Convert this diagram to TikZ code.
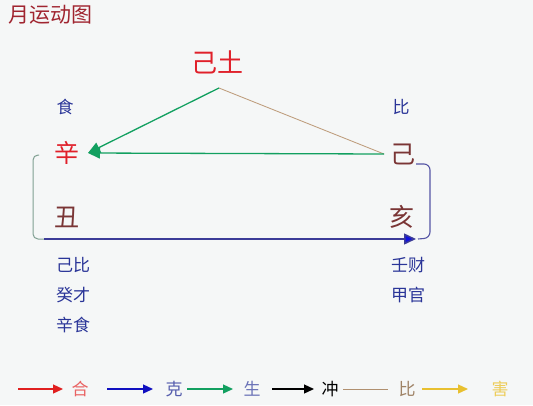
\documentclass[tikz,border=0pt]{standalone}
\usepackage{fontspec}
\setmainfont{Noto Sans CJK SC}
\usetikzlibrary{arrows.meta}
\definecolor{bg}{HTML}{F5F7F7}
\definecolor{titlered}{HTML}{A02530}
\definecolor{bigred}{HTML}{E0202A}
\definecolor{brownc}{HTML}{7A3535}
\definecolor{navyt}{HTML}{2A3598}
\definecolor{greenl}{HTML}{12A060}
\definecolor{tanl}{HTML}{C0A080}
\definecolor{bluel}{HTML}{3C3C98}
\definecolor{bluetip}{HTML}{1010E0}
\definecolor{brack}{HTML}{5555A5}
\definecolor{lbrack}{HTML}{80A092}
\definecolor{legred}{HTML}{E02020}
\definecolor{legblue}{HTML}{1010C0}
\definecolor{legtan}{HTML}{B09070}
\definecolor{legyel}{HTML}{E8C030}
\begin{document}
\begin{tikzpicture}[x=1pt,y=-1pt,
  every node/.style={inner sep=0pt,outer sep=0pt},
  big/.style={font=\fontsize{25}{25}\selectfont},
  small/.style={font=\fontsize{17}{17}\selectfont,text=navyt},
  legtxt/.style={font=\fontsize{17}{17}\selectfont},
  tipg/.style={-{Triangle[length=12pt,width=11pt]}},
  tipl/.style={-{Triangle[length=10pt,width=9pt]}},
  line width=1.3pt]
\fill[bg] (0,0) rectangle (533,405);
\useasboundingbox (0,0) rectangle (533,405);

\node[font=\fontsize{21}{21}\selectfont,text=titlered,anchor=west] (title) at (9,15) {月运动图};
\node[font=\fontsize{26}{26}\selectfont,text=bigred] (jitu) at (217,62) {己土};
\node[small] (shi) at (65,107) {食};
\node[small] (bi) at (401,107) {比};
\node[big,text=bigred] (xin) at (67,153) {辛};
\node[big,text=brownc] (ji) at (403,154) {己};
\node[big,text=brownc] (chou) at (67,217) {丑};
\node[big,text=brownc] (hai) at (402,217) {亥};
\node[small] (c1) at (73,265) {己比};
\node[small] (c2) at (73,295) {癸才};
\node[small] (c3) at (73,325) {辛食};
\node[small] (h1) at (408,265) {壬财};
\node[small] (h2) at (408,295) {甲官};

\coordinate (apex) at (219,88);
\coordinate (xintip) at (88,153);
\coordinate (jiL) at (384,154);
\coordinate (jiR) at (416,164);
\coordinate (lstart) at (39,155);
\coordinate (lbot) at (44,239);
\coordinate (haitip) at (416,239);

\draw[tanl,line width=0.9pt] (apex) -- (jiL);
\draw[greenl,tipg] (apex) -- (xintip);
\draw[greenl,tipg] (jiL) -- (xintip);
\draw[lbrack,line width=1pt,rounded corners=5pt] (lstart) -- (33,155) -- (33,239) -- (lbot);
\draw[bluel,line width=1.5pt,-{Triangle[length=12pt,width=11pt,fill=bluetip]}] (lbot) -- (haitip);
\draw[brack,line width=1.1pt,rounded corners=6pt] (jiR) -- (430,164) -- (430,238) -- (418,239);

% legend
\coordinate (r1) at (18,389); \coordinate (r2) at (63,389);
\coordinate (b1) at (107,389); \coordinate (b2) at (153,389);
\coordinate (g1) at (187,389); \coordinate (g2) at (233,389);
\coordinate (k1) at (272,389); \coordinate (k2) at (314,389);
\coordinate (t1) at (343,389); \coordinate (t2) at (388,389);
\coordinate (y1) at (422,389); \coordinate (y2) at (468,389);
\draw[legred,tipl] (r1) -- (r2);
\draw[legblue,tipl] (b1) -- (b2);
\draw[greenl,tipl] (g1) -- (g2);
\draw[black,tipl] (k1) -- (k2);
\draw[legtan,line width=0.9pt] (t1) -- (t2);
\draw[legyel,tipl] (y1) -- (y2);
\node[legtxt,text=legred!70!white] (lhe) at (80,389) {合};
\node[legtxt,text=navyt!80!white] (lke) at (174,389) {克};
\node[legtxt,text=navyt!70!white] (lsh) at (252,389) {生};
\node[legtxt,text=black] (lch) at (330,389) {冲};
\node[legtxt,text=legtan!90!black] (lbi) at (407,389) {比};
\node[legtxt,text=legyel!80!white] (lha) at (500,389) {害};
\end{tikzpicture}
\end{document}
